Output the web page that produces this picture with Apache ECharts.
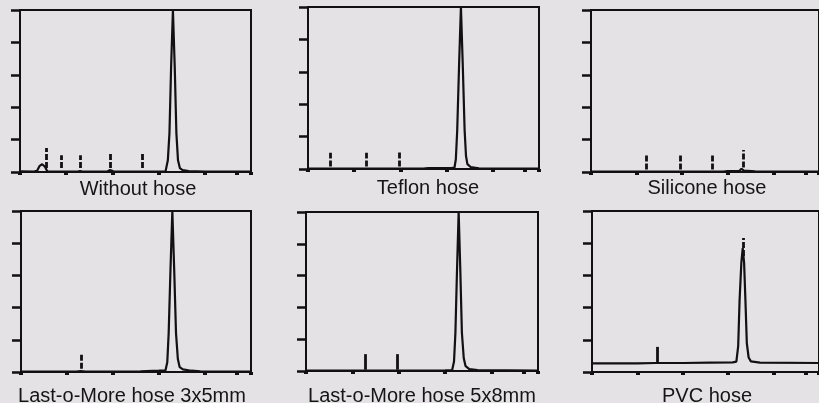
<!DOCTYPE html>
<html>
<head>
<meta charset="utf-8">
<script src="https://cdn.jsdelivr.net/npm/echarts@6/dist/echarts.min.js"></script>
<style>
  html, body { margin: 0; padding: 0; background: #e5e2e5; }
  #chart { width: 819px; height: 403px; }
</style>
</head>
<body>
<div id="chart"></div>
<script>
// panel titles
var titles = ['Without hose', 'Teflon hose', 'Silicone hose',
              'Last-o-More hose 3x5mm', 'Last-o-More hose 5x8mm', 'PVC hose'];

// x ticks (retention time), same for every panel
var xTicks = [0, 1, 2, 3, 4, 4.7, 5];

// traces [time, signal]
var traceNoHose = [[0,0.02],[0.3,0.01],[0.37,0.04],[0.42,0.18],[0.48,0.24],[0.54,0.16],[0.59,0.02],[0.8,0.01],
  [1.25,0.01],[1.3,0.03],[1.35,0.01],[1.88,0.01],[1.95,0.06],[2.02,0.02],[2.6,0.01],[2.64,0.04],[2.7,0.01],
  [3.1,0.01],[3.15,0.02],[3.18,0.06],[3.2,0.36],[3.235,1.2],[3.27,3.2],[3.31,5],[3.35,3.2],[3.385,1.2],
  [3.42,0.36],[3.46,0.12],[3.52,0.06],[3.65,0.03],[4,0.01],[5,0.01]];
var traceTeflon = [[0,0.01],[1,0.01],[2.5,0.01],[2.6,0.03],[3.1,0.03],[3.17,0.04],[3.2,0.3],[3.23,1.2],
  [3.27,3.2],[3.31,5],[3.35,3.2],[3.39,1.2],[3.42,0.4],[3.45,0.15],[3.52,0.06],[3.7,0.02],[5,0.01]];
var traceSilicone = [[0,0.01],[1,0.01],[2.9,0.01],[3,0.03],[3.25,0.03],[3.3,0.1],[3.35,0.04],[3.6,0.02],[5,0.01]];
var traceLast35 = [[0,0.01],[1.2,0.01],[1.3,0.03],[1.4,0.01],[2.6,0.02],[3.0,0.04],[3.14,0.05],[3.18,0.3],
  [3.21,1.2],[3.25,3.2],[3.29,5],[3.33,3.2],[3.37,1.2],[3.41,0.4],[3.45,0.15],[3.52,0.08],[3.7,0.04],[3.9,0.02],[5,0.01]];
var traceLast58 = [[0,0.01],[2.8,0.01],[3.0,0.02],[3.15,0.03],[3.19,0.3],[3.22,1.2],[3.255,3.2],[3.29,5],
  [3.325,3.2],[3.36,1.2],[3.4,0.4],[3.44,0.15],[3.52,0.06],[3.7,0.03],[5,0.01]];
var tracePVC = [[0,0.27],[1.0,0.27],[1.4,0.28],[2.0,0.28],[2.6,0.29],[3.1,0.3],[3.18,0.32],[3.22,0.8],
  [3.25,2.2],[3.29,3.4],[3.32,3.85],[3.35,3.4],[3.38,2.2],[3.41,0.9],[3.45,0.45],[3.5,0.33],[3.7,0.29],[5,0.28]];

// peak markers [time, from, to, dashed]
var markNoHose = [[0.56,0.12,0.74,1],[0.89,0.12,0.52,1],[1.30,0.12,0.52,1],[1.95,0.12,0.59,1],[2.64,0.12,0.56,1]];
var markTeflon = [[0.48,0.08,0.5,1],[1.26,0.08,0.5,1],[1.97,0.08,0.52,1]];
var markSilicone = [[1.21,0.08,0.55,1],[1.95,0.08,0.55,1],[2.66,0.08,0.57,1],[3.33,0.14,0.68,1]];
var markLast35 = [[1.30,0.1,0.56,1]];
var markLast58 = [[1.27,0.04,0.53,0],[1.96,0.04,0.53,0]];
var markPVC = [[1.43,0.28,0.78,0],[3.33,3.6,4.16,1]];

var traces = [traceNoHose, traceTeflon, traceSilicone, traceLast35, traceLast58, tracePVC];
var marks = [markNoHose, markTeflon, markSilicone, markLast35, markLast58, markPVC];

// panel boxes
var boxes = [
  {left: 20, top: 10, width: 231, height: 162},
  {left: 308, top: 7, width: 231, height: 162},
  {left: 591, top: 10, width: 231, height: 162},
  {left: 21, top: 211, width: 230, height: 161},
  {left: 306, top: 212, width: 232, height: 159},
  {left: 592, top: 211, width: 231, height: 161}
];
// label centre x, top y
var labelPos = [[138,179],[428,178],[707,178],[132,386],[422,386],[707,386]];

var ink = '#111111';
var chart = echarts.init(document.getElementById('chart'));

var grids = [], xAxes = [], yAxes = [], series = [], graphics = [];
boxes.forEach(function(b, i){
  grids.push({
    left: b.left, top: b.top, width: b.width, height: b.height,
    show: true, borderColor: ink, borderWidth: 2, backgroundColor: 'transparent'
  });
  xAxes.push({
    type: 'value', gridIndex: i, min: 0, max: 5,
    axisLine: {lineStyle: {color: ink, width: 2}},
    axisTick: {show: true, length: 3, customValues: xTicks, lineStyle: {color: ink, width: 4}},
    axisLabel: {show: false},
    splitLine: {show: false}
  });
  yAxes.push({
    type: 'value', gridIndex: i, min: 0, max: 5, interval: 1,
    axisLine: {show: true, lineStyle: {color: ink, width: 2}},
    axisTick: {show: true, length: 9, lineStyle: {color: ink, width: 2.5}},
    axisLabel: {show: false},
    splitLine: {show: false}
  });
  series.push({
    type: 'line', xAxisIndex: i, yAxisIndex: i,
    data: traces[i], symbol: 'none', smooth: false,
    lineStyle: {color: ink, width: 2.2},
    clip: true,
    markLine: {
      silent: true, symbol: 'none', label: {show: false},
      animation: false,
      data: marks[i].map(function(m){
        return [
          {coord: [m[0], m[1]], lineStyle: {color: ink, width: 2.8, type: m[3] ? [6, 2] : 'solid'}},
          {coord: [m[0], m[2]]}
        ];
      })
    }
  });
  graphics.push({
    type: 'text', x: labelPos[i][0], y: labelPos[i][1],
    style: {
      text: titles[i], fill: '#151515', align: 'center', verticalAlign: 'top',
      font: '20px "Liberation Sans", Arial, sans-serif'
    }
  });
});

chart.setOption({
  backgroundColor: '#e5e2e5',
  animation: false,
  grid: grids,
  xAxis: xAxes,
  yAxis: yAxes,
  series: series,
  graphic: graphics
});

window.onresize = function(){
  chart.resize();
}
</script>
</body>
</html>
